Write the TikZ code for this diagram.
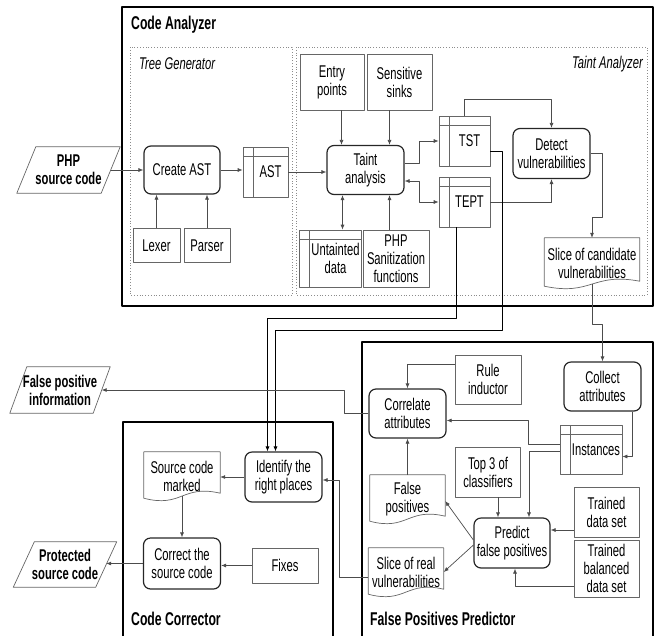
\documentclass[tikz,border=0pt]{standalone}
\usepackage{fontspec}
\setmainfont{Liberation Sans}[FakeStretch=0.66]
\usetikzlibrary{arrows.meta,calc}

\begin{document}
\begin{tikzpicture}[x=1pt,y=-1pt,>={Latex[length=5pt,width=4pt]},line join=round,
	font=\fontsize{17}{18}\selectfont,
	every node/.style={inner sep=0pt,align=center},
	sz/.style 2 args={minimum width=#1pt,minimum height=#2pt},
	proc/.style={draw=black!85,line width=1.2pt,rounded corners=7pt},
	ext/.style={draw=black!60,line width=.7pt},
	tbl/.style={ext,path picture={\draw[black!60,line width=.7pt]
		([xshift=10pt]path picture bounding box.north west) -- ([xshift=10pt]path picture bounding box.south west)
		([yshift=-9pt]path picture bounding box.north west) -- ([yshift=-9pt]path picture bounding box.north east);},
		label={[xshift=5pt,align=center]center:#1}},
	io/.style={font=\fontsize{17}{18}\selectfont\bfseries},
	arr/.style={->,draw=black!70,line width=.7pt},
	group/.style={draw,line width=1.5pt},
	sub/.style={draw=black!45,dotted,line width=.8pt},
	title/.style={font=\fontsize{18.5}{20}\selectfont\bfseries,anchor=west}]
	\def\docline#1{\draw[ext] (#1.north west) -- (#1.north east) -- ([yshift=7pt]#1.south east)
		.. controls ($(#1.south)+(0pt,16pt)$) and ($(#1.south)+(0pt,-8pt)$) .. ([yshift=2pt]#1.south west) -- cycle;}
	\def\ioline#1#2{\draw[ext] ([xshift=#2]#1.north west) -- ([xshift=#2]#1.north east)
		-- ([xshift=-#2]#1.south east) -- ([xshift=-#2]#1.south west) -- cycle;}
	\useasboundingbox (0,0) rectangle (660,635);
	% groups
	\draw[group] (122,7) rectangle (653,306);
	\draw[sub] (130,47) rectangle (292,295);
	\draw[sub] (296,47) rectangle (647,295);
	\draw[group] (123,640) |- (333,422) -- (333,640);
	\draw[group] (362,640) |- (653,342) -- (653,640);
	\node[title] (catitle) at (131,25) {Code Analyzer};
	\node[anchor=west,font=\fontsize{17}{18}\selectfont\itshape] (tgtitle) at (139,64) {Tree Generator};
	\node[anchor=east,font=\fontsize{17}{18}\selectfont\itshape] (tatitle) at (643,64) {Taint Analyzer};
	\node[title] (cctitle) at (131,619) {Code Corrector};
	\node[title] (fptitle) at (370,619) {False Positives Predictor};
	% inputs and outputs
	\node[io,sz={84}{46}] (php) at (68.5,170) {PHP\\source code};
	\node[io,sz={83}{46}] (fpi) at (60,390) {False positive\\information};
	\node[io,sz={82}{45}] (psc) at (65,564.5) {Protected\\source code};
	\ioline{php}{9.5pt} \ioline{fpi}{8.5pt} \ioline{psc}{10.5pt}
	% code analyzer
	\node[proc,sz={76}{48}] (create) at (182,170) {Create AST};
	\node[ext,sz={47}{34}] (lexer) at (156.5,245.5) {Lexer};
	\node[ext,sz={46}{34}] (parser) at (207,245.5) {Parser};
	\node[tbl=AST,sz={45}{50}] (ast) at (265.5,172) {};
	\node[ext,sz={64}{56}] (entry) at (332,82) {Entry\\points};
	\node[ext,sz={65}{56}] (sinks) at (399.5,82) {Sensitive\\sinks};
	\node[proc,sz={77}{49}] (taint) at (365.5,170) {Taint\\analysis};
	\node[tbl={Untainted\\data},sz={62}{57}] (untainted) at (330.5,258.5) {};
	\node[ext,sz={66}{57}] (sanit) at (396,258.5) {PHP\\Sanitization\\functions};
	\node[tbl=TST,sz={51}{50}] (tst) at (464.5,141) {};
	\node[tbl=TEPT,sz={51}{50}] (tept) at (464.5,202) {};
	\node[proc,sz={77}{50}] (detect) at (551.5,153.5) {Detect\\vulnerabilities};
	\node[sz={95}{50}] (cand) at (592,263) {Slice of candidate\\vulnerabilities};
	\docline{cand}
	% code corrector
	\node[proc,sz={77}{50}] (identify) at (283.5,477) {Identify the\\right places};
	\node[sz={76}{48}] (marked) at (182,476) {Source code\\marked};
	\docline{marked}
	\node[proc,sz={77}{51}] (correct) at (182,563.5) {Correct the\\source code};
	\node[ext,sz={66}{35}] (fixes) at (285,565.5) {Fixes};
	% false positives predictor
	\node[proc,sz={77}{49}] (collect) at (602.5,386.5) {Collect\\attributes};
	\node[ext,sz={66}{49}] (rule) at (488,379.5) {Rule\\inductor};
	\node[proc,sz={77}{49}] (correlate) at (407.5,413.5) {Correlate\\attributes};
	\node[tbl=Instances,sz={62}{49}] (instances) at (591,449.5) {};
	\node[ext,sz={65}{50}] (top3) at (488,472) {Top 3 of\\classifiers};
	\node[proc,sz={76}{50}] (predict) at (512,543) {Predict\\false positives};
	\node[ext,sz={65}{50}] (trained) at (606.5,512) {Trained\\data set};
	\node[ext,sz={65}{57}] (balanced) at (606.5,568.5) {Trained\\balanced\\data set};
	\node[sz={75}{48}] (falsepos) at (407.5,499) {False\\positives};
	\docline{falsepos}
	\node[sz={75}{48}] (realslice) at (406,572) {Slice of real\\vulnerabilities};
	\docline{realslice}
	% connectors
	\draw[arr] (php.east) -- (create.west);
	\draw[arr] (create.east) -- (create.east -| ast.west);
	\draw[arr] (ast.east) -- (ast.east -| taint.west);
	\draw[arr] (lexer.north) -- (lexer.north |- create.south);
	\draw[arr] (parser.north) -- (parser.north |- create.south);
	\draw[arr] ([xshift=-24pt]taint.north |- entry.south) -- ([xshift=-24pt]taint.north);
	\draw[arr] ([xshift=24pt]taint.north |- sinks.south) -- ([xshift=24pt]taint.north);
	\draw[arr,<->] ([xshift=-23pt]taint.south) -- ([xshift=-23pt]taint.south |- untainted.north);
	\draw[arr] ([xshift=24pt]taint.south |- sanit.north) -- ([xshift=24pt]taint.south);
	\draw[arr] ([yshift=7pt]taint.east) -- ++(15pt,0) |- (tst.west);
	\draw[arr,<->] ([yshift=-11pt]taint.east) -- ++(15pt,0) |- (tept.west);
	\draw[arr] (tst.north) -- ++(0pt,16pt) -| (detect.north);
	\draw[arr] (tept.east) -| (detect.south);
	\draw[arr] (detect.east) -- ++(12pt,0) -- ++(0pt,-64pt) -| (cand.north);
	\draw[arr] ([yshift=4pt]cand.south) -- ++(0pt,-40pt) -| (collect.north);
	\draw[arr,draw=black] ([xshift=-8pt]tept.south) -- ++(0pt,-91pt) -| ([xshift=-16pt]identify.north);
	\draw[arr,draw=black] ([yshift=-10pt]tst.east) -- ++(12pt,0) -- ++(0pt,-179pt) -| ([xshift=-8pt]identify.north);
	\draw[arr] (identify.west) -- (identify.west -| marked.east);
	\draw[arr] ([yshift=4pt]marked.south) -- (correct.north);
	\draw[arr] (fixes.west) -- (fixes.west -| correct.east);
	\draw[arr] (correct.west) -- (correct.west -| psc.east);
	\draw[arr] ([xshift=30pt]collect.south) |- ([yshift=-7pt]instances.east);
	\draw[arr] ([yshift=5pt]instances.west) -- ++(-31pt,0) |- ([yshift=-7pt]correlate.east);
	\draw[arr] ([yshift=-2pt]instances.west) -| ([xshift=17pt]predict.north);
	\draw[arr] ([yshift=15pt]rule.west) -| (correlate.north);
	\draw[arr] ([xshift=10pt]top3.south) -- ([xshift=-14pt]predict.north);
	\draw[arr] ([yshift=-18pt]trained.west) -- ([yshift=-18pt]trained.west -| predict.east);
	\draw[arr] ([yshift=-18pt]balanced.west) -| ([xshift=3pt]predict.south);
	\draw[arr] ([yshift=3pt]predict.west) -- ([yshift=-2pt]falsepos.east);
	\draw[arr] ([yshift=-2pt]predict.west) -- (realslice.east);
	\draw[arr] (falsepos.north) -- (correlate.south);
	\draw[arr] ([yshift=-5pt]realslice.west) -- ++(-29pt,0) |- ([yshift=-3pt]identify.east);
	\draw[arr] (correlate.west) -- ++(-24pt,0) |- (fpi.east);
\end{tikzpicture}
\end{document}
